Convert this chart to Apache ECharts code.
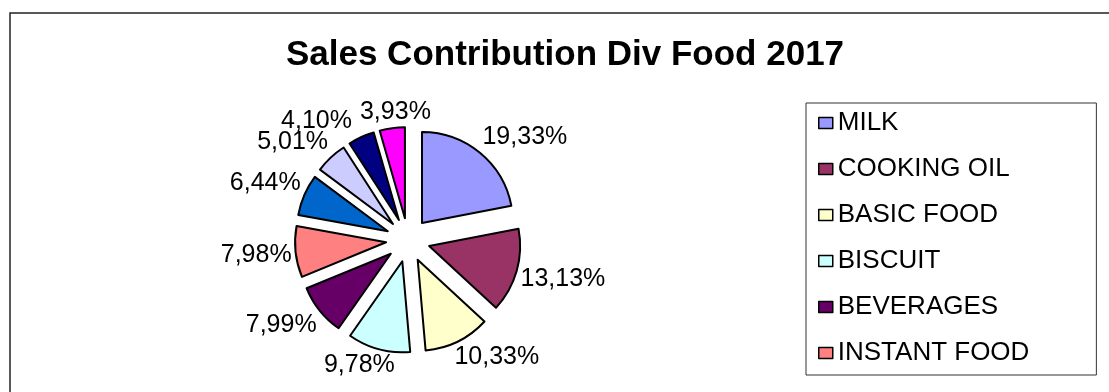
<!DOCTYPE html>
<html>
<head>
<meta charset="utf-8">
<script src="https://cdn.jsdelivr.net/npm/echarts@6/dist/echarts.min.js"></script>
<style>
html,body{margin:0;padding:0;background:#fff;}
#chart{width:1109px;height:392px;}
</style>
</head>
<body>
<div id="chart"></div>
<script>
// ---- data ----
const categories = ['MILK', 'COOKING OIL', 'BASIC FOOD', 'BISCUIT', 'BEVERAGES', 'INSTANT FOOD', 'OTHER 1', 'OTHER 2', 'OTHER 3', 'OTHER 4'];
const shares = [19.33, 13.13, 10.33, 9.78, 7.99, 7.98, 6.44, 5.01, 4.10, 3.93];
const legendVisible = ['MILK', 'COOKING OIL', 'BASIC FOOD', 'BISCUIT', 'BEVERAGES', 'INSTANT FOOD'];
const sliceColors = ['#9999FF', '#993366', '#FFFFCC', '#CCFFFF', '#660066', '#FF8080', '#0066CC', '#CCCCFF', '#000080', '#FF00FF'];
const titleText = 'Sales Contribution Div Food 2017';

// ---- layout ----
const FONT = '"Liberation Sans", Arial, sans-serif';
const LABEL_SIZE = 25;
const CENTER = [408, 240];
const RADIUS = 91;
const EXPLODE = 22;
const LABEL_GAP = 4;
const TOP_GAP = 8;

function fmt(v) { return v.toFixed(2).replace('.', ',') + '%'; }
function clamp(v) { return Math.max(-1, Math.min(1, v)); }

// Value labels: just outside each exploded slice, along its bisector.
const total = shares.reduce((a, b) => a + b, 0);
const measureCtx = document.createElement('canvas').getContext('2d');
measureCtx.font = LABEL_SIZE + 'px ' + FONT;
const labelPos = [];
let acc = 0;
shares.forEach((v, i) => {
  const mid = (acc + v / 2) / total * 2 * Math.PI;
  acc += v;
  const ux = Math.sin(mid), uy = -Math.cos(mid);
  const w = measureCtx.measureText(fmt(v)).width, h = LABEL_SIZE;
  const d = RADIUS + EXPLODE + LABEL_GAP;
  labelPos.push({
    x: CENTER[0] + ux * d + clamp(2 * ux) * w / 2,
    y: CENTER[1] + uy * d + clamp(2 * uy) * h / 2,
    w: w, h: h, top: uy < -0.85
  });
});
// Neighbouring labels crowded above the pie are pushed apart sideways.
for (let i = 1; i < labelPos.length; i++) {
  const a = labelPos[i - 1], b = labelPos[i];
  if (!a.top || !b.top) continue;
  const overlap = (a.x + a.w / 2 + TOP_GAP) - (b.x - b.w / 2);
  if (overlap > 0 && Math.abs(a.y - b.y) < (a.h + b.h) / 2) { a.x -= overlap / 2; b.x += overlap / 2; }
}

const graphics = [{
  type: 'rect',
  shape: {x: 10, y: 13, width: 1200, height: 500},
  style: {fill: 'none', stroke: '#222', lineWidth: 1.5},
  silent: true
}].concat(shares.map((v, i) => ({
  type: 'text',
  x: labelPos[i].x,
  y: labelPos[i].y,
  silent: true,
  z: 10,
  style: {
    text: fmt(v),
    align: 'center',
    verticalAlign: 'middle',
    fontFamily: FONT,
    fontSize: LABEL_SIZE,
    fill: '#000'
  }
})));

const chart = echarts.init(document.getElementById('chart'), null, {renderer: 'canvas'});
chart.setOption({
  animation: false,
  backgroundColor: '#ffffff',
  graphic: graphics,
  title: {
    text: titleText,
    left: 560,
    textAlign: 'center',
    top: 33,
    textStyle: {fontFamily: FONT, fontSize: 35, fontWeight: 'bold', color: '#000'}
  },
  legend: {
    orient: 'vertical',
    left: 806,
    top: 103,
    data: legendVisible,
    icon: 'rect',
    itemWidth: 14,
    itemHeight: 11,
    itemGap: 20,
    itemStyle: {borderColor: '#000', borderWidth: 1.5},
    padding: [7, 67, 9, 12],
    borderColor: '#333',
    borderWidth: 1,
    selectedMode: false,
    textStyle: {fontFamily: FONT, fontSize: 26, color: '#000', lineHeight: 26}
  },
  series: [{
    type: 'pie',
    center: CENTER,
    radius: RADIUS,
    startAngle: 90,
    clockwise: true,
    selectedMode: 'multiple',
    selectedOffset: EXPLODE,
    avoidLabelOverlap: false,
    emphasis: {disabled: true},
    itemStyle: {borderColor: '#000', borderWidth: 2},
    select: {itemStyle: {borderColor: '#000', borderWidth: 2}},
    label: {show: false},
    labelLine: {show: false},
    data: categories.map((name, i) => ({
      name: name,
      value: shares[i],
      selected: true,
      itemStyle: {color: sliceColors[i]}
    }))
  }]
});
</script>
</body>
</html>
